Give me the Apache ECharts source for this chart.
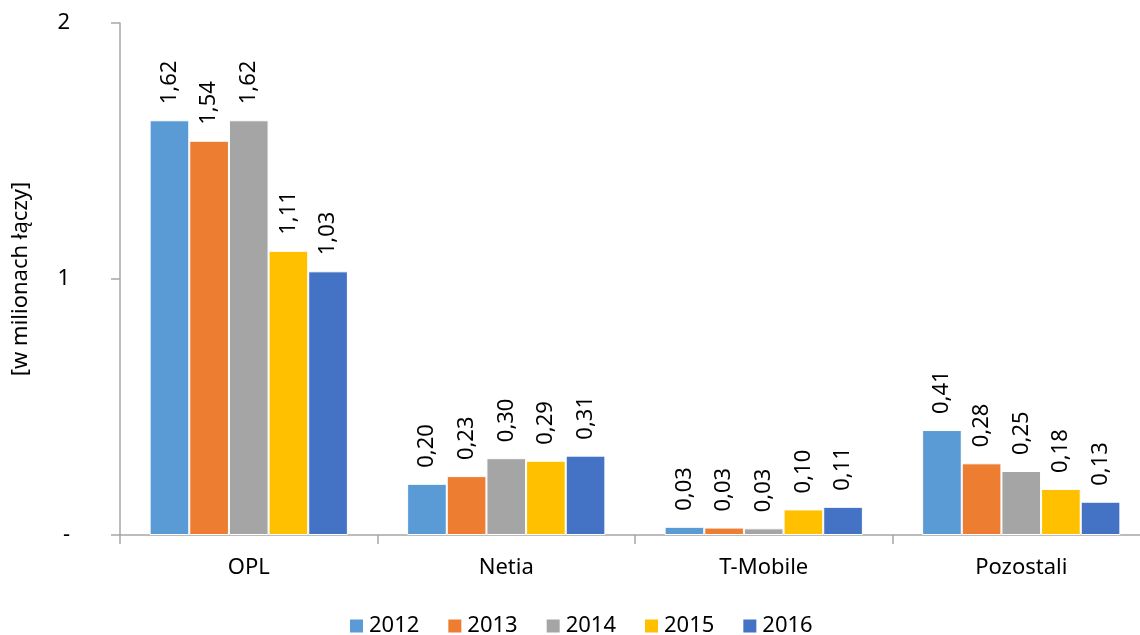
<!DOCTYPE html>
<html>
<head>
<meta charset="utf-8">
<script src="https://cdn.jsdelivr.net/npm/echarts@6/dist/echarts.min.js"></script>
<style>
  html, body { margin: 0; padding: 0; background: #fff; }
  #main { width: 1140px; height: 635px; }
</style>
</head>
<body>
<div id="main"></div>
<script>
var categories = ['OPL', 'Netia', 'T-Mobile', 'Pozostali'];
var years = ['2012', '2013', '2014', '2015', '2016'];
var v2012 = [1.62, 0.20, 0.032, 0.41];
var v2013 = [1.54, 0.23, 0.029, 0.28];
var v2014 = [1.62, 0.30, 0.026, 0.25];
var v2015 = [1.11, 0.29, 0.10, 0.18];
var v2016 = [1.03, 0.31, 0.11, 0.13];
var colors = ['#5B9BD5', '#ED7D31', '#A5A5A5', '#FFC000', '#4472C4'];

var font = 'Noto Sans';
var fs = 22;
var allValues = [v2012, v2013, v2014, v2015, v2016];

var series = years.map(function (y, i) {
  return {
    name: y,
    type: 'bar',
    data: allValues[i],
    barGap: 0,
    barCategoryGap: '23%',
    itemStyle: { color: colors[i], borderColor: '#ffffff', borderWidth: 1 },
    label: {
      show: true,
      position: 'top',
      rotate: 90,
      align: 'left',
      verticalAlign: 'middle',
      distance: 16,
      fontFamily: font,
      fontSize: fs,
      color: '#000',
      formatter: function (p) { return p.value.toFixed(2).replace('.', ','); }
    }
  };
});

var chartDom = document.getElementById('main');
var myChart = echarts.init(chartDom);
var option = {
  color: colors,
  animation: false,
  grid: { left: 120, top: 23, width: 1030, height: 512, outerBoundsMode: 'none' },
  legend: {
    data: years,
    top: 610,
    left: 343,
    itemWidth: 15,
    itemHeight: 15,
    itemGap: 27,
    icon: 'rect',
    textStyle: { fontFamily: font, fontSize: fs, color: '#000' }
  },
  xAxis: {
    type: 'category',
    data: categories,
    axisLine: { lineStyle: { color: '#a6a6a6', width: 1.5 } },
    axisTick: { show: true, length: 9, lineStyle: { color: '#a6a6a6', width: 1.5 } },
    axisLabel: { margin: 22, fontFamily: font, fontSize: fs, color: '#000' }
  },
  yAxis: {
    type: 'value',
    min: 0,
    max: 2,
    interval: 1,
    name: '[w milionach łączy]',
    nameLocation: 'middle',
    nameGap: 88,
    nameTextStyle: { fontFamily: font, fontSize: fs, color: '#000' },
    axisLine: { show: true, lineStyle: { color: '#a6a6a6', width: 1.5 } },
    axisTick: { show: true, length: 9, lineStyle: { color: '#a6a6a6', width: 1.5 } },
    splitLine: { show: false },
    axisLabel: {
      margin: 50,
      fontFamily: font,
      fontSize: fs,
      color: '#000',
      formatter: function (v) { return v === 0 ? '-' : String(v); }
    }
  },
  series: series
};

option && myChart.setOption(option);
</script>
</body>
</html>
